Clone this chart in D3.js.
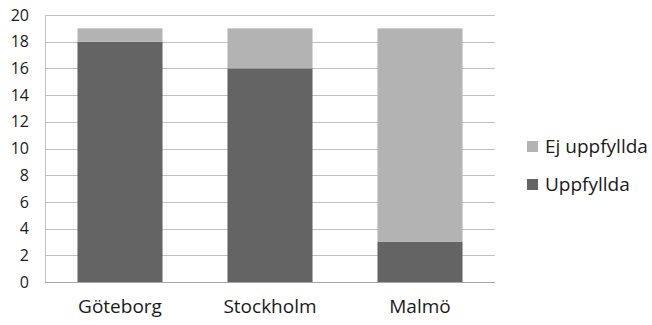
<!DOCTYPE html>
<html>
<head>
<meta charset="utf-8">
<script src="https://cdn.jsdelivr.net/npm/d3@7"></script>
<style>
  html, body { margin: 0; padding: 0; background: #fff; }
  svg { display: block; font-family: "Open Sans", sans-serif; }
</style>
</head>
<body>
<svg id="chart" width="652" height="325"></svg>
<script>
// Stacked bars: number of fulfilled / not fulfilled per city
const categories = ["Göteborg", "Stockholm", "Malmö"];
const uppfyllda = [18, 16, 3];
const ejUppfyllda = [1, 3, 16];
const seriesNames = ["Uppfyllda", "Ej uppfyllda"];
const seriesColors = ["#646464", "#b3b3b3"];
const yTicks = [0, 2, 4, 6, 8, 10, 12, 14, 16, 18, 20];

const svg = d3.select("#chart");
const plot = { left: 45, right: 495, top: 15, bottom: 282 };

const x = d3.scaleBand().domain(categories)
  .range([plot.left, plot.right]).paddingInner(0.433).paddingOuter(0.2165);
const y = d3.scaleLinear().domain([0, 20]).range([plot.bottom, plot.top]);

// horizontal gridlines
svg.append("g").selectAll("line").data(yTicks.filter(t => t > 0)).join("line")
  .attr("x1", plot.left).attr("x2", plot.right)
  .attr("y1", d => Math.round(y(d)) + 0.5).attr("y2", d => Math.round(y(d)) + 0.5)
  .attr("stroke", "#c0c0c0").attr("stroke-width", 1);

// stacked bars
const rows = categories.map((c, i) => ({ city: c, Uppfyllda: uppfyllda[i], "Ej uppfyllda": ejUppfyllda[i] }));
const stacked = d3.stack().keys(seriesNames)(rows);
svg.append("g").selectAll("g").data(stacked).join("g")
  .attr("fill", (d, i) => seriesColors[i])
  .selectAll("rect").data(d => d).join("rect")
  .attr("x", d => x(d.data.city))
  .attr("width", x.bandwidth())
  .attr("y", d => y(d[1]))
  .attr("height", d => y(d[0]) - y(d[1]));

// axes lines
svg.append("line").attr("x1", plot.left + 0.5).attr("x2", plot.left + 0.5)
  .attr("y1", plot.top).attr("y2", plot.bottom)
  .attr("stroke", "#c0c0c0");
svg.append("line").attr("x1", plot.left).attr("x2", plot.right)
  .attr("y1", plot.bottom + 0.5).attr("y2", plot.bottom + 0.5)
  .attr("stroke", "#a6a6a6");

// y tick labels
const yAxis = d3.axisLeft(y).tickValues(yTicks).tickSize(0).tickPadding(16);
const gy = svg.append("g").attr("transform", `translate(${plot.left},0)`).call(yAxis);
gy.select(".domain").remove();
gy.selectAll("text").attr("font-size", 16).attr("fill", "#1a1a1a")
  .attr("font-family", "'Open Sans', sans-serif");

// x category labels
const xAxis = d3.axisBottom(x).tickSize(0).tickPadding(18);
const gx = svg.append("g").attr("transform", `translate(0,${plot.bottom})`).call(xAxis);
gx.select(".domain").remove();
gx.selectAll("text").attr("font-size", 19).attr("fill", "#1a1a1a")
  .attr("font-family", "'Open Sans', sans-serif");

// legend (top entry is the upper stack segment)
const legendItems = [
  { name: seriesNames[1], color: seriesColors[1] },
  { name: seriesNames[0], color: seriesColors[0] }
];
const legend = svg.append("g").attr("transform", "translate(527,141)");
const li = legend.selectAll("g").data(legendItems).join("g")
  .attr("transform", (d, i) => `translate(0,${i * 38})`);
li.append("rect").attr("width", 11).attr("height", 11).attr("fill", d => d.color);
li.append("text").attr("x", 18).attr("y", 5.5).attr("dy", "0.35em")
  .attr("font-size", 19).attr("fill", "#1a1a1a").text(d => d.name);
</script>
</body>
</html>
